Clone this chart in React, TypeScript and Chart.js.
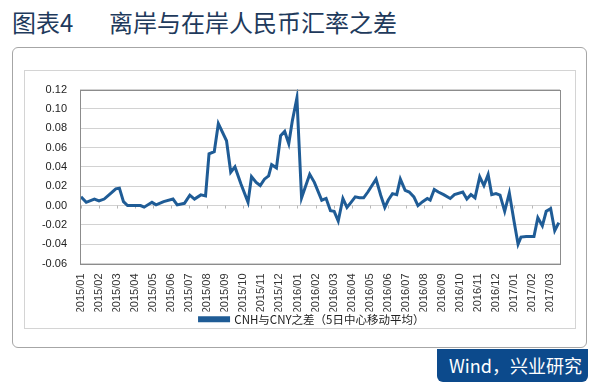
import React, { useEffect, useRef } from 'react';
import { Chart, registerables } from 'chart.js';

Chart.register(...registerables);

const monthLabels = [
  '2015/01', '2015/02', '2015/03', '2015/04', '2015/05', '2015/06', '2015/07', '2015/08', '2015/09',
  '2015/10', '2015/11', '2015/12', '2016/01', '2016/02', '2016/03', '2016/04', '2016/05', '2016/06',
  '2016/07', '2016/08', '2016/09', '2016/10', '2016/11', '2016/12', '2017/01', '2017/02', '2017/03',
];

const dates = [
  '2015-01-01', '2015-01-10', '2015-01-24', '2015-02-01', '2015-02-09', '2015-02-20', '2015-02-27',
  '2015-03-05', '2015-03-12', '2015-03-19', '2015-04-10', '2015-04-16', '2015-04-29', '2015-05-06',
  '2015-05-19', '2015-06-04', '2015-06-11', '2015-06-23', '2015-07-02', '2015-07-10', '2015-07-21',
  '2015-07-29', '2015-08-04', '2015-08-13', '2015-08-20', '2015-09-03', '2015-09-10', '2015-09-17',
  '2015-09-27', '2015-10-09', '2015-10-15', '2015-10-23', '2015-10-30', '2015-11-06', '2015-11-13',
  '2015-11-18', '2015-11-26', '2015-12-03', '2015-12-10', '2015-12-17', '2015-12-23', '2015-12-31',
  '2016-01-08', '2016-01-22', '2016-01-30', '2016-02-11', '2016-02-18', '2016-02-25', '2016-03-02',
  '2016-03-09', '2016-03-17', '2016-03-24', '2016-03-31', '2016-04-07', '2016-04-14', '2016-04-21',
  '2016-04-28', '2016-05-05', '2016-05-12', '2016-05-20', '2016-05-27', '2016-06-02', '2016-06-09',
  '2016-06-16', '2016-06-22', '2016-06-30', '2016-07-07', '2016-07-15', '2016-07-22', '2016-07-30',
  '2016-08-07', '2016-08-12', '2016-08-19', '2016-08-26', '2016-09-04', '2016-09-15', '2016-09-22',
  '2016-10-06', '2016-10-13', '2016-10-20', '2016-10-27', '2016-11-04', '2016-11-11', '2016-11-18',
  '2016-11-24', '2016-12-01', '2016-12-08', '2016-12-16', '2016-12-24', '2017-01-01', '2017-01-08',
  '2017-01-13', '2017-01-22', '2017-02-04', '2017-02-10', '2017-02-17', '2017-02-23', '2017-03-02',
  '2017-03-09', '2017-03-16',
];

const spread = [
  0.009, 0.0033, 0.0067, 0.0047, 0.0067, 0.013, 0.0173,
  0.018, 0.004, 0.0, 0.0, -0.0017, 0.0033, 0.0007,
  0.004, 0.0067, 0.0007, 0.0023, 0.0107, 0.0067, 0.011,
  0.01, 0.0535, 0.0557, 0.0847, 0.067, 0.0345, 0.04,
  0.0223, 0.0033, 0.03, 0.024, 0.0207, 0.0273, 0.0307,
  0.0423, 0.039, 0.0723, 0.0767, 0.064, 0.0873, 0.1113,
  0.008, 0.0323, 0.024, 0.0055, 0.0073, -0.0053, -0.006,
  -0.016, 0.0073, -0.002, 0.0033, 0.009, 0.008, 0.008,
  0.014, 0.0207, 0.0273, 0.0107, -0.002, 0.0057, 0.0123,
  0.0113, 0.0273, 0.0157, 0.014, 0.009, 0.0, 0.004,
  0.0073, 0.0057, 0.0167, 0.014, 0.0113, 0.0073, 0.0113,
  0.014, 0.0067, 0.0113, 0.008, 0.0297, 0.0207, 0.032,
  0.0113, 0.0123, 0.0107, -0.006, 0.013, -0.016, -0.04,
  -0.0327, -0.032, -0.032, -0.0127, -0.021, -0.006, -0.0033,
  -0.026, -0.0177,
];

const seriesName = 'CNH与CNY之差（5日中心移动平均）';
const titleLeft = '图表4';
const titleRight = '离岸与在岸人民币汇率之差';
const sourceText = 'Wind，兴业研究';

function monthPos(d: string): number {
  const [y, m, day] = d.split('-').map(Number);
  const dim = new Date(y, m, 0).getDate();
  return (y - 2015) * 12 + (m - 1) + (day - 1) / dim;
}

const frameAndTicks = {
  id: 'frameAndTicks',
  afterLayout(chart: any) {
    if (chart.legend) {
      chart.legend.left += 20;
      chart.legend.right += 20;
    }
  },
  beforeDatasetsDraw(chart: any) {
    const { ctx, scales } = chart;
    const xs = scales.x;
    const ys = scales.y;
    const y0 = ys.getPixelForValue(0);
    ctx.save();
    ctx.strokeStyle = '#b8b8b8';
    ctx.lineWidth = 1;
    ctx.beginPath();
    monthLabels.forEach((_, i) => {
      const x = Math.round(xs.getPixelForValue(i)) + 0.5;
      ctx.moveTo(x, y0);
      ctx.lineTo(x, y0 + 3);
    });
    ctx.stroke();
    ctx.restore();
  },
  afterDatasetsDraw(chart: any) {
    const { ctx, chartArea } = chart;
    ctx.save();
    ctx.strokeStyle = '#8c8c8c';
    ctx.lineWidth = 1;
    ctx.strokeRect(
      Math.round(chartArea.left) + 0.5,
      Math.round(chartArea.top) + 0.5,
      Math.round(chartArea.right - chartArea.left),
      Math.round(chartArea.bottom - chartArea.top)
    );
    ctx.restore();
  },
};

export default function App() {
  const canvasRef = useRef<HTMLCanvasElement | null>(null);

  useEffect(() => {
    if (!canvasRef.current) return;
    const points = dates.map((d, i) => ({ x: monthPos(d), y: spread[i] }));
    const chart = new Chart(canvasRef.current, {
      type: 'line',
      data: {
        datasets: [
          {
            label: seriesName,
            data: points,
            borderColor: '#1f5c96',
            backgroundColor: '#1f5c96',
            borderWidth: 3,
            pointRadius: 0,
            tension: 0,
            fill: false,
          },
        ],
      },
      options: {
        animation: false,
        responsive: false,
        maintainAspectRatio: false,
        layout: { padding: { left: 0, right: 15, top: 14, bottom: 0 } },
        plugins: {
          tooltip: { enabled: false },
          legend: {
            position: 'bottom',
            labels: {
              boxWidth: 29,
              boxHeight: 3,
              padding: 2,
              color: '#222',
              font: { family: '"Noto Sans CJK SC", sans-serif', size: 11.5 },
            },
          },
        },
        scales: {
          x: {
            type: 'linear',
            min: -0.055,
            max: 26.55,
            afterBuildTicks: (scale: any) => {
              scale.ticks = monthLabels.map((_, i) => ({ value: i }));
            },
            afterFit: (scale: any) => {
              scale.height = 48;
            },
            grid: { display: false },
            border: { display: false },
            ticks: {
              autoSkip: false,
              minRotation: 90,
              maxRotation: 90,
              padding: 2,
              color: '#333',
              font: { family: '"Liberation Sans", Arial, sans-serif', size: 11 },
              callback: (v: any) => monthLabels[v] ?? '',
            },
          },
          y: {
            min: -0.06,
            max: 0.12,
            afterFit: (scale: any) => {
              scale.width = 56;
            },
            grid: { color: '#d2d2d2', drawTicks: false },
            border: { display: false },
            ticks: {
              stepSize: 0.02,
              padding: 13,
              color: '#222',
              font: { family: '"Liberation Sans", Arial, sans-serif', size: 11 },
              callback: (v: any) => Number(v).toFixed(2),
            },
          },
        },
      },
      plugins: [frameAndTicks],
    });
    return () => chart.destroy();
  }, []);

  return (
    <div
      style={{
        position: 'fixed',
        left: 0,
        top: 0,
        width: 600,
        height: 391,
        background: '#ffffff',
        overflow: 'hidden',
        fontFamily: '"Noto Sans CJK SC", sans-serif',
      }}
    >
      <div style={{ position: 'absolute', left: 12, top: 5, fontSize: 24, color: '#1e3a5c', lineHeight: '34px', whiteSpace: 'nowrap' }}>
        {titleLeft}
      </div>
      <div style={{ position: 'absolute', left: 109, top: 5, fontSize: 24, color: '#1e3a5c', lineHeight: '34px', whiteSpace: 'nowrap' }}>
        {titleRight}
      </div>
      <div
        style={{
          position: 'absolute',
          left: 12,
          top: 47,
          width: 575,
          height: 301,
          border: '1px solid #a6a6a6',
          borderRadius: 6,
          boxSizing: 'border-box',
        }}
      />
      <div
        style={{
          position: 'absolute',
          left: 24,
          top: 70,
          width: 552,
          height: 259,
          border: '1px solid #d4d4d4',
          boxSizing: 'border-box',
        }}
      />
      <canvas
        ref={canvasRef}
        width={551}
        height={265}
        style={{ position: 'absolute', left: 24, top: 70, width: 551, height: 265 }}
      />
      <div
        style={{
          position: 'absolute',
          left: 437,
          top: 349,
          width: 151,
          height: 33,
          background: '#0c4a8c',
          borderRadius: '0 0 6px 6px',
          color: '#ffffff',
          fontSize: 18,
          lineHeight: '33px',
          paddingLeft: 12,
          boxSizing: 'border-box',
          whiteSpace: 'nowrap',
          fontFamily: '"Noto Sans CJK SC", sans-serif',
        }}
      >
        {sourceText}
      </div>
    </div>
  );
}
